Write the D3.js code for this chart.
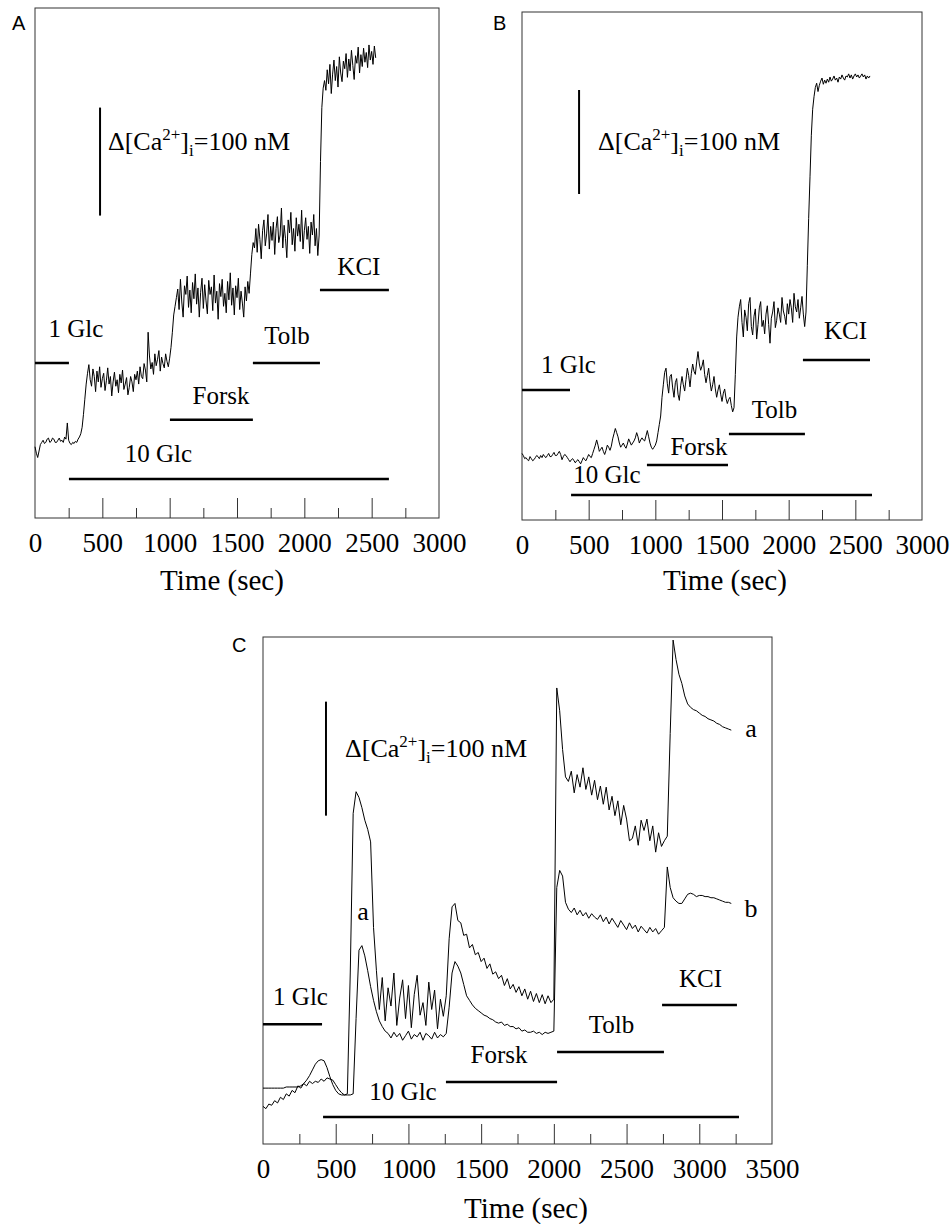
<!DOCTYPE html>
<html><head><meta charset="utf-8">
<script src="https://cdn.jsdelivr.net/npm/d3@7"></script>
<style>body{margin:0;background:#fff}</style>
</head><body><svg id="chart" width="951" height="1224"></svg>
<script>
// ---------- DATA ----------
// sampling interval of each trace (seconds)
const stepA = 10, stepB = 10, stepC = 20;

// Panel A: [Ca2+]i trace (nM, relative), t = 0..2530 s
const traceA = [66,60,56,62,68,70,72,69,70,73,74,70,71,74,73,70,70,72,74,71,72,70,75,73,
 88,72,69,68,70,69,71,70,73,75,78,84,96,110,124,134,
 142,128,122,138,131,117,136,126,140,121,129,134,118,127,139,124,131,113,126,135,122,128,116,133,125,137,119,124,130,114,
 121,131,126,117,133,128,136,124,140,131,129,143,137,126,172,150,138,144,133,152,141,147,155,136,149,143,139,152,145,140,
 148,158,172,188,196,204,
 212,193,221,200,186,215,207,224,195,211,190,218,203,226,198,213,186,209,222,194,216,201,189,220,207,214,192,225,199,210,
 184,217,205,221,196,208,190,219,202,227,197,213,188,215,204,222,193,210,199,186,214,201,219,208,
 226,244,255,250,
 268,246,272,258,240,266,276,252,263,281,249,270,257,274,244,268,279,255,262,287,250,271,259,241,276,264,283,253,268,247,
 278,261,272,256,285,249,266,278,258,270,245,274,262,281,252,268,
 243,262,330,380,398,405,
 396,415,402,420,393,411,424,405,418,399,427,412,404,423,416,430,408,425,414,433,419,406,428,421,436,412,429,418,435,422,
 431,417,438,424,432,420,437,426];

// Panel B: trace, t = 0..2610 s
const traceB = [64,62,59,60,58,57,61,59,57,58,60,62,61,59,62,60,63,61,60,62,64,61,61,63,65,62,62,64,66,63,
 58,61,63,62,60,58,56,58,59,57,55,57,58,56,54,57,60,58,57,60,
 63,61,60,64,68,72,77,72,66,68,70,66,63,67,72,70,67,71,78,83,88,84,80,74,70,72,74,71,69,73,
 78,75,72,74,76,79,84,80,74,77,79,77,76,81,86,80,74,70,68,70,
 72,76,84,92,100,118,130,142,
 146,131,122,138,140,127,118,132,136,121,115,129,138,130,124,135,146,139,128,141,150,143,140,152,162,150,144,148,154,140,
 132,139,146,133,124,130,138,126,118,125,130,121,114,122,126,117,112,116,118,110,104,108,
 140,176,195,205,
 212,190,176,202,195,182,208,214,186,178,196,203,174,188,204,210,186,192,179,198,206,188,170,194,200,210,185,192,204,198,
 190,214,201,196,188,208,198,212,204,190,218,205,200,212,194,204,215,198,186,
 200,245,290,330,370,395,407,416,420,412,
 418,422,425,419,423,420,424,421,426,422,424,427,423,425,421,426,424,428,425,423,427,426,429,425,428,424,427,429,426,428,
 425,427,429,426,428,424,427,425,427];

// Panel C: cell a and cell b traces, t = 0..3220 s
const traceCa = [33,31,35,34,38,36,41,39,44,42,47,45,51,49,53,51,55,53,55,54,57,55,58,57,56,52,48,45,43,44,
 150,290,309,304,295,284,276,265,190,
 152,118,146,108,137,121,150,104,128,144,110,139,102,131,148,113,124,104,142,118,135,101,127,112,
 130,180,208,211,196,194,183,184,172,175,166,168,160,163,154,158,149,151,145,148,139,145,136,140,133,138,130,136,127,134,
 125,132,124,131,123,130,124,127,
 400,380,346,322,318,327,308,324,313,330,311,322,306,319,302,314,298,313,293,305,288,301,280,297,285,266,268,279,262,284,
 275,285,266,279,256,273,261,266,270,
 360,442,425,412,404,393,386,383,381,380,378,376,375,373,372,371,369,368,366,365,364,363];
const traceCb = [49,49,49,49,49,49,49,49,50,50,50,50,50,51,53,56,60,65,70,73,74,73,67,59,52,47,44,43,43,43,43,44,
 110,170,174,165,152,138,126,116,108,103,99,
 97,93,98,94,97,91,95,99,92,96,94,98,91,97,95,92,98,93,96,94,97,
 120,150,160,156,150,140,130,126,122,119,117,115,113,112,110,109,107,106,107,104,105,103,103,101,102,99,100,98,98,99,
 97,98,96,98,97,98,99,
 225,240,235,212,206,203,207,201,205,200,203,198,202,199,197,201,195,199,193,198,194,190,196,192,188,194,189,192,186,191,
 188,185,190,186,189,184,187,190,
 243,225,216,213,211,211,215,219,220,219,217,218,218,217,217,216,216,215,214,213,212,212,211];

const treatmentNames = ["1 Glc", "10 Glc", "Forsk", "Tolb", "KCI"];
// treatment bars: [start s, end s, level nM]
const barsA = [[0,252,143.5],[252,2628,36],[1002,1618,91],[1618,2116,143.5],[2116,2628,211]];
const barsB = [[0,360,125],[368,2625,24],[937,1545,53],[1552,2122,82.7],[2107,2610,153.8]];
const barsC = [[0,406,105],[413,3273,23.7],[1258,2022,54.4],[2022,2757,80.7],[2744,3259,122]];
// treatment label anchors: [t s, nM]
const labelsA = [[304,168],[917,52],[1381,106],[1871,161],[2405,225]];
const labelsB = [[349,141],[637,35.6],[1327,62.5],[1894,98],[2426,174]];
const labelsC = [[258,122],[963,38.6],[1623,71],[2396,97.4],[3008,137.7]];
// trace labels in panel C: [text, t, nM]
const traceLabelsC = [["a",688,196.5],["a",3356,357],["b",3356,199]];
// 100 nM calibration bar: [t, lower nM, upper nM], text anchor [t, nM]
const calA = [483,280,380], calTextA = [542,341];
const calB = [428,313.5,413.5], calTextB = [570,356];
const calC = [433,288,388], calTextC = [564,339.5];

const tickLabelsAB = [0,500,1000,1500,2000,2500,3000];
const tickLabelsC = [0,500,1000,1500,2000,2500,3000,3500];
const majorTicksAB = [500,1000,1500,2000,2500];
const minorTicksAB = [250,750,1250,1750,2250,2750];
const majorTicksC = [500,1000,1500,2000,2500,3000];
const minorTicksC = [250,750,1250,1750,2250,2750,3250];

// ---------- DRAW ----------
const serif = "'Liberation Serif','Times New Roman',serif";
const sans = "'Liberation Sans',Arial,sans-serif";
const svg = d3.select("#chart");

const panels = [
  {letter:"A", letterPos:[12,30], box:[35,439,8,518], xDom:[0,3000], yDom:[0,472.2],
   traces:[traceA], step:stepA, bars:barsA, labels:labelsA, cal:calA, calText:calTextA,
   tickLabels:tickLabelsAB, major:majorTicksAB, minor:minorTicksAB, timeLabel:[222,590], traceLabels:[]},
  {letter:"B", letterPos:[493,30], box:[522,922,12,520], xDom:[0,3000], yDom:[0,488.5],
   traces:[traceB], step:stepB, bars:barsB, labels:labelsB, cal:calB, calText:calTextB,
   tickLabels:tickLabelsAB, major:majorTicksAB, minor:minorTicksAB, timeLabel:[725,590], traceLabels:[]},
  {letter:"C", letterPos:[232,652], box:[263,772,637,1144], xDom:[0,3500], yDom:[0,444.7],
   traces:[traceCa, traceCb], step:stepC, bars:barsC, labels:labelsC, cal:calC, calText:calTextC,
   tickLabels:tickLabelsC, major:majorTicksC, minor:minorTicksC, timeLabel:[526,1218], traceLabels:traceLabelsC}
];

panels.forEach(p => {
  const [x0,x1,y0,y1] = p.box;
  const x = d3.scaleLinear().domain(p.xDom).range([x0,x1]);
  const y = d3.scaleLinear().domain(p.yDom).range([y1,y0]);
  const g = svg.append("g");

  // frame
  g.append("rect").attr("x",x0).attr("y",y0).attr("width",x1-x0).attr("height",y1-y0)
    .attr("fill","none").attr("stroke","#333").attr("stroke-width",1);

  // ticks (pointing inward)
  const axisG = g.append("g").attr("transform",`translate(0,${y1})`);
  axisG.append("g").call(d3.axisBottom(x).tickValues(p.major).tickSize(-20).tickFormat(""))
    .call(s => s.select(".domain").remove())
    .selectAll("line").attr("stroke","#333");
  axisG.append("g").call(d3.axisBottom(x).tickValues(p.minor).tickSize(-10).tickFormat(""))
    .call(s => s.select(".domain").remove())
    .selectAll("line").attr("stroke","#333");
  const lab = axisG.append("g").call(d3.axisBottom(x).tickValues(p.tickLabels).tickSize(0).tickFormat(d3.format("d")));
  lab.select(".domain").remove();
  lab.selectAll("text").attr("y",34).attr("dy",null).attr("font-family",serif)
    .attr("font-size",27).attr("fill","#000");

  // axis title
  g.append("text").attr("x",p.timeLabel[0]).attr("y",p.timeLabel[1]).attr("text-anchor","middle")
    .attr("font-family",serif).attr("font-size",29).text("Time (sec)");

  // traces
  const line = d3.line().x((d,i)=>x(i*p.step)).y(d=>y(d));
  p.traces.forEach(tr => {
    g.append("path").datum(tr).attr("d",line).attr("fill","none")
      .attr("stroke","#000").attr("stroke-width",1).attr("stroke-linejoin","round");
  });

  // treatment bars & labels
  p.bars.forEach((b,i) => {
    g.append("line").attr("x1",x(b[0])).attr("x2",x(b[1])).attr("y1",y(b[2])).attr("y2",y(b[2]))
      .attr("stroke","#000").attr("stroke-width",2.5);
    g.append("text").attr("x",x(p.labels[i][0])).attr("y",y(p.labels[i][1]))
      .attr("text-anchor","middle").attr("font-family",serif).attr("font-size",25)
      .text(treatmentNames[i]);
  });

  // calibration bar
  g.append("line").attr("x1",x(p.cal[0])).attr("x2",x(p.cal[0]))
    .attr("y1",y(p.cal[1])).attr("y2",y(p.cal[2])).attr("stroke","#000").attr("stroke-width",2);
  const ct = g.append("text").attr("x",x(p.calText[0])).attr("y",y(p.calText[1]))
    .attr("font-family",serif).attr("font-size",26);
  ct.append("tspan").text("Δ[Ca");
  ct.append("tspan").attr("font-size",17).attr("dy",-10).text("2+");
  ct.append("tspan").attr("dy",10).text("]");
  ct.append("tspan").attr("font-size",17).attr("dy",6).text("i");
  ct.append("tspan").attr("dy",-6).text("=100 nM");

  // trace labels
  p.traceLabels.forEach(t => {
    g.append("text").attr("x",x(t[1])).attr("y",y(t[2])).attr("text-anchor","middle")
      .attr("font-family",serif).attr("font-size",26).text(t[0]);
  });

  // panel letter
  svg.append("text").attr("x",p.letterPos[0]).attr("y",p.letterPos[1])
    .attr("font-family",sans).attr("font-size",20).text(p.letter);
});
</script>
</body></html>
